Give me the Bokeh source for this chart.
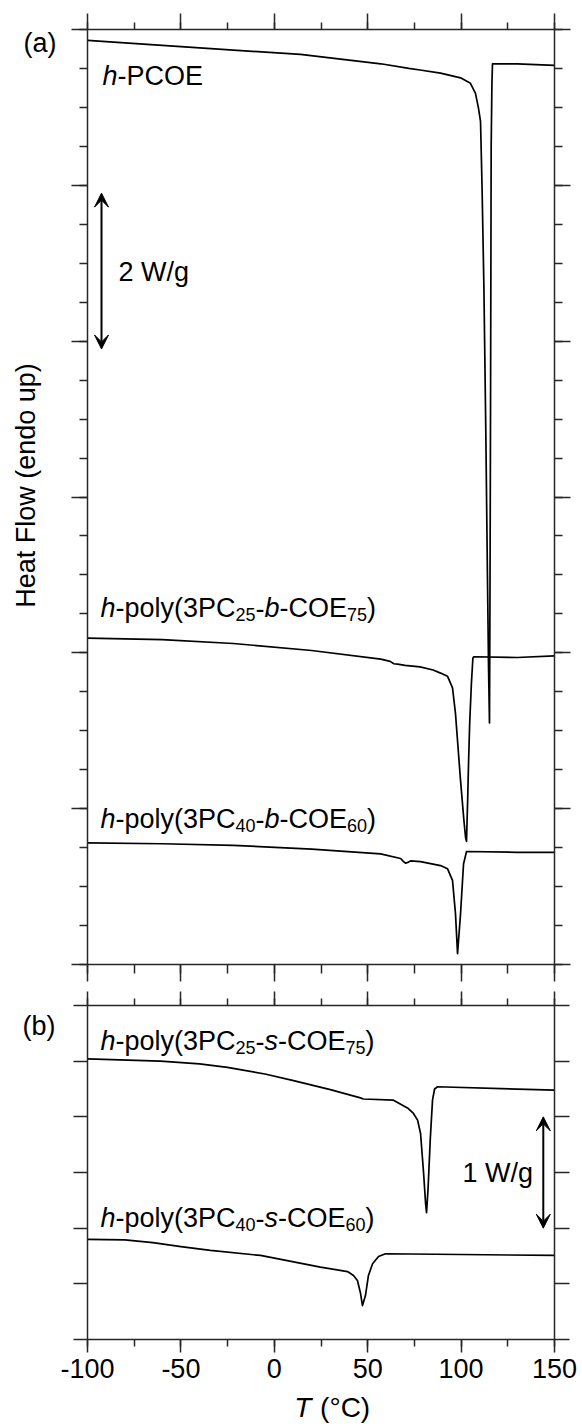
import numpy as np
from bokeh.plotting import figure
from bokeh.models import (Range1d, LinearAxis, FixedTicker, CustomJSTickFormatter,
                          Label, Arrow, VeeHead)
from bokeh.layouts import column, row
from bokeh.embed import file_html
from bokeh.resources import INLINE

# ---------------- data ----------------
# panel (a): heat flow in W/g (offset traces), T in °C
T_PCOE = [-100, -50, 14, 57, 72, 78, 89, 99.7, 105, 107.7, 109.3, 110.4, 111.2, 112.2,
          113.2, 114.1, 114.7, 115.2, 115.5, 115.8, 116.1, 116.5, 116.8, 130, 150]
HF_PCOE = [11.86, 11.78, 11.68, 11.56, 11.50, 11.48, 11.44, 11.38, 11.31, 11.18, 10.99,
           10.82, 10.0, 8.7, 6.9, 5.0, 3.8, 3.10, 5.0, 7.5, 10.5, 11.3, 11.56, 11.56, 11.54]

T_B25 = [-100, -60, -22, 20, 57, 62, 64, 66, 70, 78, 85, 89, 92.7, 95.4, 97, 98.1, 99.7,
         101.5, 102.4, 102.9, 103.5, 104.0, 104.6, 105.5, 106.3, 106.8, 130, 150]
HF_B25 = [4.19, 4.17, 4.12, 4.03, 3.92, 3.89, 3.86, 3.855, 3.84, 3.82, 3.78, 3.74, 3.70,
          3.55, 3.22, 2.87, 2.36, 1.85, 1.63, 1.58, 2.1, 2.6, 3.1, 3.6, 3.93, 3.95, 3.94, 3.96]

T_B40 = [-100, -60, -22, 20, 56.9, 67.6, 69.2, 70.2, 71.5, 72.9, 78.3, 89, 92.7, 95.4,
         97.0, 98.1, 99.7, 101.3, 102.9, 130, 150]
HF_B40 = [1.56, 1.55, 1.53, 1.48, 1.42, 1.36, 1.32, 1.30, 1.31, 1.33, 1.32, 1.27, 1.23,
          1.08, 0.65, 0.14, 0.65, 1.29, 1.45, 1.44, 1.44]

# panel (b)
T_S25 = [-100, -61, -40, -25.1, -5, 10.3, 30, 46.1, 47.7, 63.8, 71.3, 74.5, 76.7, 78.3,
         79.9, 81.0, 81.5, 82.3, 83.5, 84.7, 85.8, 87.4, 150]
HF_S25 = [2.52, 2.50, 2.475, 2.445, 2.385, 2.325, 2.245, 2.17, 2.16, 2.15, 2.08, 2.03,
          1.97, 1.85, 1.50, 1.22, 1.14, 1.35, 1.80, 2.15, 2.25, 2.27, 2.24]

T_S40 = [-100, -80, -65, -50, -34.2, -7.4, 24.7, 39.2, 42.4, 44.5, 46.1, 47.2, 48.8,
         50.4, 52.6, 55.8, 59.5, 150]
HF_S40 = [0.90, 0.895, 0.87, 0.835, 0.80, 0.755, 0.65, 0.61, 0.575, 0.53, 0.42, 0.305,
          0.395, 0.575, 0.68, 0.745, 0.77, 0.755]

# axes
X_RANGE = (-100, 150)
X_MAJOR = [-100, -50, 0, 50, 100, 150]
X_MINOR = [-100, -75, -50, -25, 0, 25, 50, 75, 100, 125, 150]
X_LABELS = ["-100", "-50", "0", "50", "100", "150"]
YA_RANGE = (0, 12)
YA_MAJOR = [0, 2, 4, 6, 8, 10, 12]
YA_MINOR = list(np.arange(0, 12.01, 0.5))
YB_RANGE = (0, 3)
YB_MAJOR = [0, 0.5, 1.0, 1.5, 2.0, 2.5, 3.0]

# scale bars (W/g)
BAR_A = dict(x=-92.5, y0=7.9, y1=9.9, text="2 W/g")
BAR_B = dict(x=144.0, y0=1.0, y1=2.0, text="1 W/g")

Y_TITLE = "Heat Flow (endo up)"

FONT = "Liberation Sans"
AX = "#262626"
LEFT_W = 58          # width of the strip holding the y title and panel letters
PAGE_W, PAGE_H = 582, 1427
HA, HB = 985, 404    # heights of panel figures
MID = 0.35           # baseline -> middle of em box, in em

# Helvetica/Arial advance widths (per 1000 em)
W = {' ': 278, '-': 333, '(': 333, ')': 333, '/': 278, '°': 400,
     'P': 667, 'C': 722, 'O': 778, 'E': 667, 'W': 944, 'T': 611, 'H': 722, 'F': 611,
     'h': 556, 'p': 556, 'o': 556, 'l': 222, 'y': 500, 'b': 556, 's': 500, 'g': 556,
     'a': 556, 'e': 556, 't': 278, 'w': 722, 'n': 556, 'd': 556, 'u': 556}
for c in "0123456789":
    W[c] = 556


def tw(text, size):
    return sum(W.get(c, 556) for c in text) * size / 1000.0


def rich(p, x, y, segs, units="screen"):
    """Place text segments one after another; (x, y) is the start of the baseline."""
    cx = x
    for text, size, italic, dy in segs:
        if units == "screen":       # y grows upwards
            yy = y + MID * size - dy
        else:                       # page-like data, y grows downwards
            yy = y - MID * size + dy
        p.add_layout(Label(x=cx, y=yy, x_units=units, y_units=units, text=text,
                           text_font=FONT, text_font_size=f"{size}px",
                           text_font_style="italic" if italic else "normal",
                           text_baseline="middle", text_align="left",
                           text_color="black"))
        cx += tw(text, size)


def poly_label(a, b, link):
    M, S, D = 27, 18, 3
    return [("h", M, True, 0), ("-poly(3PC", M, False, 0), (a, S, False, D),
            ("-", M, False, 0), (link, M, True, 0), ("-COE", M, False, 0),
            (b, S, False, D), (")", M, False, 0)]


def style_axis(ax, major_out, minor_out, labels=False):
    ax.axis_line_color = AX
    ax.axis_line_width = 1.5
    ax.major_tick_line_color = AX
    ax.major_tick_line_width = 1.5
    ax.minor_tick_line_color = AX
    ax.minor_tick_line_width = 1.5
    ax.major_tick_in = 0
    ax.major_tick_out = major_out
    ax.minor_tick_in = 0
    ax.minor_tick_out = minor_out
    if not labels:
        ax.formatter = CustomJSTickFormatter(code="return ''")
        ax.major_label_standoff = 0
        ax.major_label_text_font_size = "1px"


def make_fig(height, yr, top, bottom):
    p = figure(width=PAGE_W - LEFT_W, height=height, x_range=Range1d(*X_RANGE),
               y_range=Range1d(*yr), output_backend="svg", toolbar_location=None,
               min_border_left=87 - LEFT_W, min_border_right=28,
               min_border_top=top, min_border_bottom=bottom)
    p.outline_line_color = None
    p.grid.visible = False
    p.background_fill_color = "white"
    p.border_fill_color = "white"
    return p


def text_strip(width, height, x0, y0):
    """A bare figure whose data coordinates are page pixels (y downwards)."""
    p = figure(width=width, height=height, x_range=Range1d(x0, x0 + width),
               y_range=Range1d(y0 + height, y0), output_backend="svg",
               toolbar_location=None, x_axis_location=None, y_axis_location=None,
               min_border=0)
    p.min_border_left = p.min_border_right = p.min_border_top = p.min_border_bottom = 0
    p.outline_line_color = None
    p.grid.visible = False
    p.background_fill_color = "white"
    p.border_fill_color = "white"
    return p


# ---------------- panel (a) ----------------
pa = make_fig(HA, YA_RANGE, 29, 21)
xt_a = FixedTicker(ticks=X_MAJOR, minor_ticks=X_MINOR)
yt_a = FixedTicker(ticks=YA_MAJOR, minor_ticks=YA_MINOR)
pa.xaxis.ticker = xt_a
pa.yaxis.ticker = yt_a
style_axis(pa.xaxis[0], 17, 9)
style_axis(pa.yaxis[0], 16, 8)
top_a = LinearAxis(ticker=xt_a)
style_axis(top_a, 16, 7)
pa.add_layout(top_a, "above")
right_a = LinearAxis(ticker=yt_a)
style_axis(right_a, 16, 8)
pa.add_layout(right_a, "right")

for T, HF in [(T_PCOE, HF_PCOE), (T_B25, HF_B25), (T_B40, HF_B40)]:
    pa.line(T, HF, line_color="black", line_width=1.7, line_join="round")


def head():
    return VeeHead(size=14, fill_color="black", line_color="black", line_width=1)


pa.add_layout(Arrow(x_start=BAR_A["x"], y_start=BAR_A["y0"], x_end=BAR_A["x"], y_end=BAR_A["y1"],
                    line_width=2, line_color="black", start=head(), end=head()))
rich(pa, 31, 683, [(BAR_A["text"], 27, False, 0)])
rich(pa, 15, 879, [("h", 27, True, 0), ("-PCOE", 27, False, 0)])
rich(pa, 13, 347, poly_label("25", "75", "b"))
rich(pa, 13, 136, poly_label("40", "60", "b"))

# ---------------- panel (b) ----------------
pb = make_fig(HB, YB_RANGE, 20, 50)
xt_b = FixedTicker(ticks=X_MAJOR, minor_ticks=X_MINOR)
yt_b = FixedTicker(ticks=YB_MAJOR, minor_ticks=[])
pb.xaxis.ticker = xt_b
pb.yaxis.ticker = yt_b
style_axis(pb.xaxis[0], 13, 7, labels=True)
ax = pb.xaxis[0]
ax.major_label_overrides = {t: s for t, s in zip(X_MAJOR, X_LABELS)}
ax.major_label_text_font = FONT
ax.major_label_text_font_size = "27px"
ax.major_label_text_color = "black"
ax.major_label_standoff = 6
style_axis(pb.yaxis[0], 14, 0)
top_b = LinearAxis(ticker=xt_b)
style_axis(top_b, 14, 7)
pb.add_layout(top_b, "above")
right_b = LinearAxis(ticker=yt_b)
style_axis(right_b, 15, 0)
pb.add_layout(right_b, "right")

for T, HF in [(T_S25, HF_S25), (T_S40, HF_S40)]:
    pb.line(T, HF, line_color="black", line_width=1.7, line_join="round")

pb.add_layout(Arrow(x_start=BAR_B["x"], y_start=BAR_B["y0"], x_end=BAR_B["x"], y_end=BAR_B["y1"],
                    line_width=2, line_color="black", start=head(), end=head()))
rich(pb, 375, 157, [(BAR_B["text"], 27, False, 0)])
rich(pb, 13, 289, poly_label("25", "75", "s"))
rich(pb, 13, 112, poly_label("40", "60", "s"))

# ---------------- strips holding texts outside the frames ----------------
left = text_strip(LEFT_W, PAGE_H, 0, 0)
left.add_layout(Label(x=35 - MID * 27, y=485, text=Y_TITLE, angle=np.pi / 2, text_font=FONT,
                      text_font_size="27px", text_align="center",
                      text_baseline="middle", text_color="black"))
rich(left, 23, 52, [("(a)", 27, False, 0)], units="data")
rich(left, 22, 1035, [("(b)", 27, False, 0)], units="data")

bottom = text_strip(PAGE_W - LEFT_W, PAGE_H - HA - HB, LEFT_W, HA + HB)
rich(bottom, 290, 1417, [("T", 28, True, 0)], units="data")
rich(bottom, 319, 1417, [("(°C)", 28, False, 0)], units="data")

layout = row(left, column(pa, pb, bottom, spacing=0), spacing=0)
open("out.html", "w").write(file_html(layout, INLINE))
